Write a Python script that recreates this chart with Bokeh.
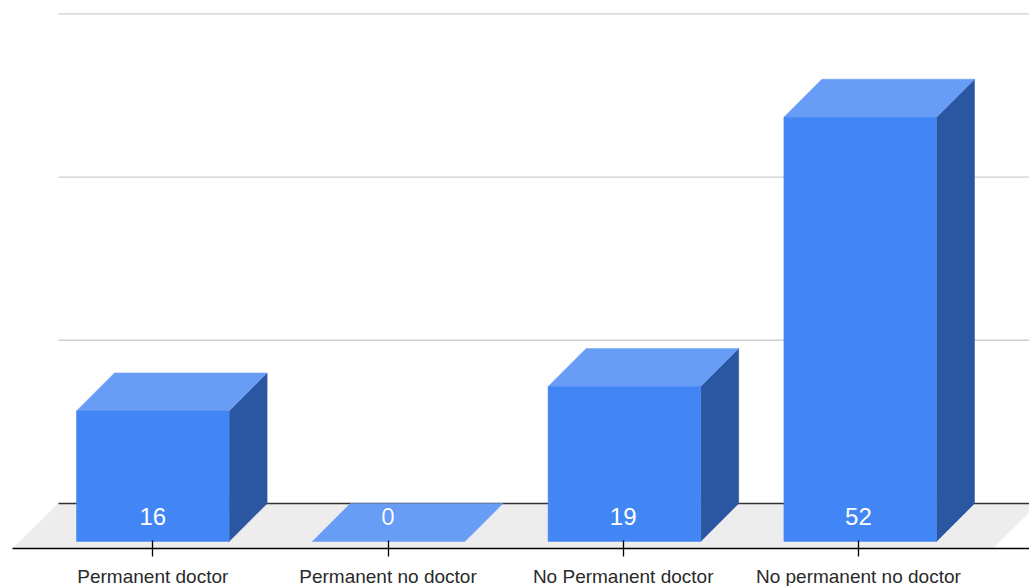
from bokeh.plotting import figure
from bokeh.models import FixedTicker, ColumnDataSource
from bokeh.core.properties import value
from bokeh.embed import file_html
from bokeh.resources import INLINE

categories = ["Permanent doctor", "Permanent no doctor", "No Permanent doctor", "No permanent no doctor"]
counts = [16, 0, 19, 52]
grid_values = [20, 40, 60]

FRONT, TOP, SIDE = "#4285f4", "#689df6", "#2b57a2"
X_PX, Y_PX = 235.2, 8.16
DX, DY = 38 / X_PX, 38 / Y_PX
HALF = 76.3 / X_PX
SPREAD = 235.8 / 235.2
X0, X1 = (12 - 152.3) / X_PX, (1029 - 152.3) / X_PX
Y0, Y1 = (541 - 548) / Y_PX, (541 - 0) / Y_PX

p = figure(frame_width=1017, frame_height=548, x_range=(X0, X1), y_range=(Y0, Y1),
           output_backend="svg", toolbar_location=None,
           min_border_left=12, min_border_right=0, min_border_top=0, min_border_bottom=0,
           outline_line_color=None, background_fill_color="white")
p.yaxis.visible = False
p.grid.visible = False

# back wall gridlines and floor
p.segment(x0=[X0 + 46 / X_PX] * 3, x1=[X1] * 3,
          y0=[g + DY for g in grid_values], y1=[g + DY for g in grid_values],
          line_color="#cfcfcf", line_width=1.4)
p.patch([X0, X0 + 46 / X_PX, X1 + 9 / X_PX, X1 - 37 / X_PX], [Y0, DY, DY, Y0],
        fill_color="#ededed", line_color="#ededed", line_width=0.5)
p.segment(x0=[X0 + 46 / X_PX], x1=[X1], y0=[DY], y1=[DY], line_color="#333333", line_width=1.5)

# 3D bars
cx = [i * SPREAD for i in range(len(counts))]
fronts_x, fronts_y, tops_x, tops_y, sides_x, sides_y = [], [], [], [], [], []
for c, v in zip(cx, counts):
    l, r = c - HALF, c + HALF
    if v > 0:
        fronts_x.append([l, r, r, l]); fronts_y.append([0, 0, v, v])
        sides_x.append([r, r + DX, r + DX, r]); sides_y.append([0, DY, v + DY, v])
    tops_x.append([l, r, r + DX, l + DX]); tops_y.append([v, v, v + DY, v + DY])
p.patches(sides_x, sides_y, fill_color=SIDE, line_color=SIDE, line_width=0.5)
p.patches(tops_x, tops_y, fill_color=TOP, line_color=TOP, line_width=0.5)
p.patches(fronts_x, fronts_y, fill_color=FRONT, line_color=FRONT, line_width=0.5)

# value labels (blue halo beneath, white on top)
src = ColumnDataSource(dict(x=list(range(len(counts))), y=[0] * len(counts), t=[str(v) for v in counts]))
p.text(x="x", y="y", text="t", source=src, text_color=FRONT, text_font=value("Liberation Sans"),
       text_font_size="24px", text_align="center", text_baseline="middle", y_offset=-25,
       text_outline_color=FRONT)
p.text(x="x", y="y", text="t", source=src, text_color="white", text_font=value("Liberation Sans"),
       text_font_size="24px", text_align="center", text_baseline="middle", y_offset=-25)

ax = p.xaxis[0]
ax.ticker = FixedTicker(ticks=list(range(len(categories))))
ax.major_label_overrides = {i: c for i, c in enumerate(categories)}
ax.major_label_text_font = "Liberation Sans"
ax.major_label_text_font_size = "19px"
ax.major_label_text_color = "#2a2a2a"
ax.major_label_standoff = 9
ax.major_tick_in = 8
ax.major_tick_out = 8
ax.minor_tick_line_color = None
ax.axis_line_color = "#000000"
ax.axis_line_width = 1.3
ax.major_tick_line_color = "#000000"
ax.major_tick_line_width = 1.3

open("out.html", "w").write(file_html(p, INLINE))
